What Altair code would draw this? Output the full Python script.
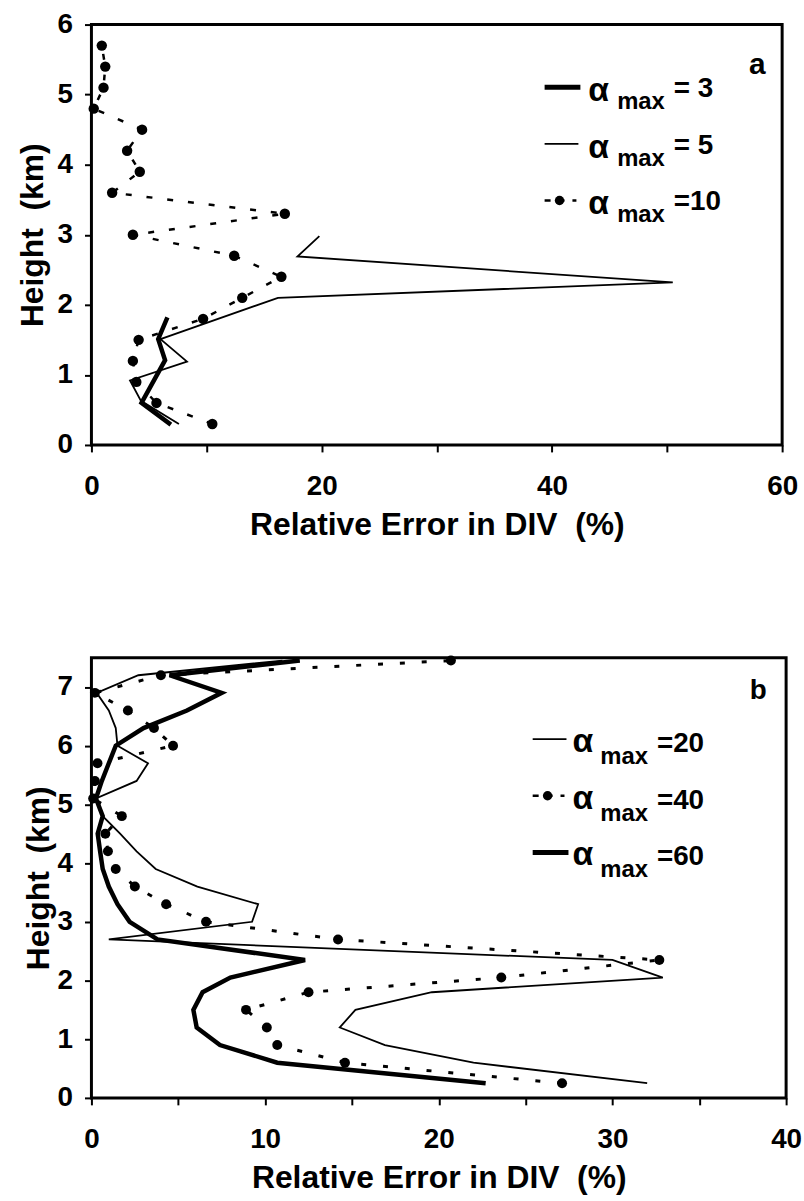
import altair as alt
import pandas as pd

# ---------------- Panel a data ----------------
a3_h = [0.29, 0.60, 1.21, 1.51, 1.82]
a3_x = [6.9, 4.35, 6.4, 5.8, 6.6]

a5_h = [0.30, 0.63, 0.92, 1.19, 1.51, 2.10, 2.32, 2.69, 2.98]
a5_x = [7.6, 4.3, 3.35, 8.3, 6.0, 16.2, 50.5, 17.9, 19.8]

a10_h = [0.3, 0.6, 0.9, 1.2, 1.5, 1.8, 2.1, 2.4, 2.7, 3.0, 3.3, 3.6, 3.9, 4.2, 4.5, 4.8, 5.1, 5.4, 5.7]
a10_x = [10.5, 5.65, 3.9, 3.6, 4.1, 9.7, 13.1, 16.5, 12.4, 3.6, 16.8, 1.8, 4.2, 3.1, 4.4, 0.2, 1.05, 1.2, 0.9]

# ---------------- Panel b data ----------------
b_h = [0.25, 0.6, 0.9, 1.2, 1.5, 1.8, 2.05, 2.35, 2.7, 3.0, 3.3, 3.6, 3.9, 4.2, 4.5,
       4.8, 5.1, 5.4, 5.7, 6.0, 6.3, 6.6, 6.9, 7.2, 7.45]
b20_x = [32.0, 22.0, 16.9, 14.3, 15.2, 19.6, 32.9, 30.0, 1.0, 9.25, 9.6, 6.1, 3.7, 2.6, 1.65,
         0.65, 0.26, 2.6, 3.26, 1.5, 1.4, 1.0, 0.3, 2.7, 11.0]
b40_x = [27.1, 14.6, 10.7, 10.1, 8.9, 12.5, 23.6, 32.7, 14.2, 6.6, 4.3, 2.5, 1.4, 0.95, 0.8,
         1.75, 0.1, 0.2, 0.35, 4.7, 3.6, 2.1, 0.2, 4.0, 20.7]
b60_x = [22.7, 10.7, 7.4, 6.06, 5.87, 6.4, 8.0, 12.3, 3.8, 2.2, 1.5, 1.0, 0.65, 0.5, 0.36,
         0.65, 0.26, 0.6, 1.0, 1.4, 3.0, 5.5, 7.5, 4.5, 12.0]

FONT = "Liberation Sans"
XTITLE = "Relative Error in DIV \u00a0(%)"
YTITLE = "Height \u00a0(km)"


def frame(h, x):
    return pd.DataFrame({"h": h, "x": x})


def enc(xdom, xvals, xlabel_step, ydom, yvals, ytp):
    X = alt.X("x:Q", scale=alt.Scale(domain=xdom, nice=False, zero=False),
              axis=alt.Axis(values=xvals, labelExpr=f"datum.value % {xlabel_step} === 0 ? datum.label : ''",
                            title=XTITLE, labelPadding=21, titlePadding=9))
    Y = alt.Y("h:Q", scale=alt.Scale(domain=ydom, nice=False, zero=False),
              axis=alt.Axis(values=yvals, title=YTITLE, labelPadding=12, titlePadding=ytp))
    return X, Y


def blank():
    return alt.Chart(alt.Data(values=[{}]))


def txt(s, x, y, size, baseline="alphabetic", align="left", weight="bold"):
    return blank().mark_text(x=x, y=y, fontSize=size, font=FONT, fontWeight=weight,
                             align=align, baseline=baseline, color="black").encode(text=alt.value(s))


def legend_entry(x0, yl, suffix, style, base_alpha_x, max_x, eq_x, yb_eq, yb_max, ya):
    layers = []
    if style == "thick":
        layers.append(blank().mark_rule(color="black", strokeWidth=5).encode(
            x=alt.value(x0), x2=alt.value(x0 + 36), y=alt.value(yl)))
    elif style == "thin":
        layers.append(blank().mark_rule(color="black", strokeWidth=1.8).encode(
            x=alt.value(x0), x2=alt.value(x0 + 34), y=alt.value(yl)))
    else:
        layers.append(blank().mark_rule(color="black", strokeWidth=2.5, strokeDash=[6, 8]).encode(
            x=alt.value(x0), x2=alt.value(x0 + 32), y=alt.value(yl)))
        layers.append(blank().mark_point(filled=True, color="black", size=90, opacity=1).encode(
            x=alt.value(x0 + 15), y=alt.value(yl)))
    layers.append(txt("\u03b1", base_alpha_x, ya, 34, baseline="middle"))
    layers.append(txt("max", max_x, yb_max, 24))
    layers.append(txt(suffix, eq_x, yb_eq, 28))
    return layers


# ---------------- Panel a ----------------
Xa, Ya = enc([0, 60], list(range(0, 61, 10)), 20, [0, 6], list(range(0, 7)), 8)

a_layers = [
    alt.Chart(frame(a3_h, a3_x)).mark_line(color="black", strokeWidth=4.5).encode(x=Xa, y=Ya, order="h:Q"),
    alt.Chart(frame(a5_h, a5_x)).mark_line(color="black", strokeWidth=1.8).encode(x=Xa, y=Ya, order="h:Q"),
    alt.Chart(frame(a10_h, a10_x)).mark_line(color="black", strokeWidth=2.5, strokeDash=[6, 15]).encode(
        x=Xa, y=Ya, order="h:Q"),
    alt.Chart(frame(a10_h, a10_x)).mark_point(filled=True, color="black", size=110, opacity=1).encode(x=Xa, y=Ya),
]
for i, (suf, sty) in enumerate([("= 3", "thick"), ("= 5", "thin"), ("=10", "dot")]):
    dy = 57 * i
    a_layers += legend_entry(456, 63 + dy, suf, sty, 500, 529, 586, 73 + dy, 85 + dy, 67 + dy)
a_layers.append(txt("a", 670, 50, 30, align="center"))

panel_a = alt.layer(*a_layers).properties(width=695, height=423)

# ---------------- Panel b ----------------
Xb, Yb = enc([0, 40], list(range(0, 41, 5)), 10, [0, 7.5], list(range(0, 8)), 2)

b_layers = [
    alt.Chart(frame(b_h, b20_x)).mark_line(color="black", strokeWidth=1.8).encode(x=Xb, y=Yb, order="h:Q"),
    alt.Chart(frame(b_h, b40_x)).mark_line(color="black", strokeWidth=3, strokeDash=[5, 17]).encode(
        x=Xb, y=Yb, order="h:Q"),
    alt.Chart(frame(b_h, b40_x)).mark_point(filled=True, color="black", size=100, opacity=1).encode(x=Xb, y=Yb),
    alt.Chart(frame(b_h, b60_x)).mark_line(color="black", strokeWidth=4.5).encode(x=Xb, y=Yb, order="h:Q"),
]
for i, (suf, sty) in enumerate([("=20", "thin"), ("=40", "dot"), ("=60", "thick")]):
    dy = 57 * i
    b_layers += legend_entry(444, 82 + dy, suf, sty, 484, 512, 569, 95 + dy, 107 + dy, 85 + dy)
b_layers.append(txt("b", 671, 42, 28, align="center"))

panel_b = alt.layer(*b_layers).properties(width=699, height=443)

chart = alt.vconcat(panel_a, panel_b, spacing=108).properties(
    padding={"left": 14, "top": 5, "right": 0, "bottom": 0},
    background="white",
).configure_view(stroke="black", strokeWidth=3).configure_axis(
    domain=False, grid=False, tickColor="black", tickWidth=2, tickSize=7,
    labelFont=FONT, labelFontSize=28, labelFontWeight="bold", labelColor="black",
    titleFont=FONT, titleFontSize=32, titleFontWeight="bold", titleColor="black",
    labelFlush=False, labelOverlap=False,
)

chart.save("out.html", embed_options={"renderer": "svg", "actions": False})
